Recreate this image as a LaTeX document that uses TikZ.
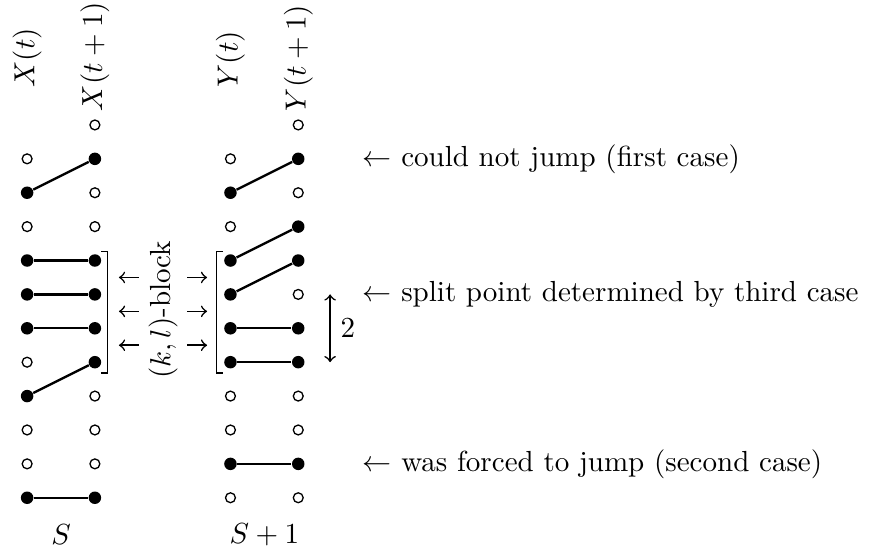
\documentclass[tikz,border=0pt]{standalone}
\begin{document}
\begin{tikzpicture}[x=0.41cm, y=0.41cm, line width=0.4pt,
		dotoff/.style={circle, draw, line width=0.45pt, inner sep=0pt, minimum size=3.4pt},
		doton/.style={circle, fill, inner sep=0pt, minimum size=4.3pt},
		link/.style={line width=0.8pt},
		colhead/.style={rotate=90, anchor=west, inner sep=0pt},
		remark/.style={anchor=west, inner sep=0pt}]
		
		\useasboundingbox (-0.8,-1.563) rectangle (24.9,14.687);
		
		\foreach \r/\s in {1/off,2/on,3/off,4/on,5/on,6/on,7/off,8/on,9/off,10/off,11/on}
		\node[dot\s] (xa-\r) at (0,11-\r) {};
		\foreach \r/\s in {0/off,1/on,2/off,3/off,4/on,5/on,6/on,7/on,8/off,9/off,10/off,11/on}
		\node[dot\s] (xb-\r) at (2,11-\r) {};
		\foreach \r/\s in {1/off,2/on,3/off,4/on,5/on,6/on,7/on,8/off,9/off,10/on,11/off}
		\node[dot\s] (ya-\r) at (6,11-\r) {};
		\foreach \r/\s in {0/off,1/on,2/off,3/on,4/on,5/off,6/on,7/on,8/off,9/off,10/on,11/off}
		\node[dot\s] (yb-\r) at (8,11-\r) {};
		
		\foreach \a/\b in {2/1,4/4,5/5,6/6,8/7,11/11}
		\draw[link] (xa-\a) -- (xb-\b);
		\foreach \a/\b in {2/1,4/3,5/4,6/6,7/7,10/10}
		\draw[link] (ya-\a) -- (yb-\b);
		
		\node[colhead] (xa-lab) at (0,12.09) {$X(t)$};
		\node[colhead] (xb-lab) at (2,11.39) {$X(t+1)$};
		\node[colhead] (ya-lab) at (6,12.09) {$Y(t)$};
		\node[colhead] (yb-lab) at (8,11.39) {$Y(t+1)$};
		
		\node (s-lab) at (1,-1.09) {$S$};
		\node (s1-lab) at (7,-1.09) {$S+1$};
		
		\draw (2.19,7.27) -- (2.37,7.27) -- (2.37,3.68) -- (2.19,3.68);
		\draw (5.78,7.27) -- (5.6,7.27) -- (5.6,3.68) -- (5.78,3.68);
		
		\foreach \y [count=\i] in {6.5,5.5,4.5} {
			\coordinate (bl-\i) at (2.71,\y);
			\coordinate (bm-\i) at (3.3,\y);
			\coordinate (bn-\i) at (4.72,\y);
			\coordinate (br-\i) at (5.31,\y);
			\draw[<-, line width=0.55pt] (bl-\i) -- (bm-\i);
			\draw[->, line width=0.55pt] (bn-\i) -- (br-\i);
		}
		\node[rotate=90] (blk) at (4.01,5.55) {$(k,l)$-block};
		
		\coordinate (gap-top) at (8.94,6);
		\coordinate (gap-bot) at (8.94,4);
		\draw[<->, line width=0.55pt] (gap-top) -- node[right] (gap-lab) {2} (gap-bot);
		
		\node[remark] (rem-a) at (9.88,10) {$\leftarrow$ could not jump (first case)};
		\node[remark] (rem-b) at (9.88,6) {$\leftarrow$ split point determined by third case};
		\node[remark] (rem-c) at (9.88,1) {$\leftarrow$ was forced to jump (second case)};
		
	\end{tikzpicture}
\end{document}
